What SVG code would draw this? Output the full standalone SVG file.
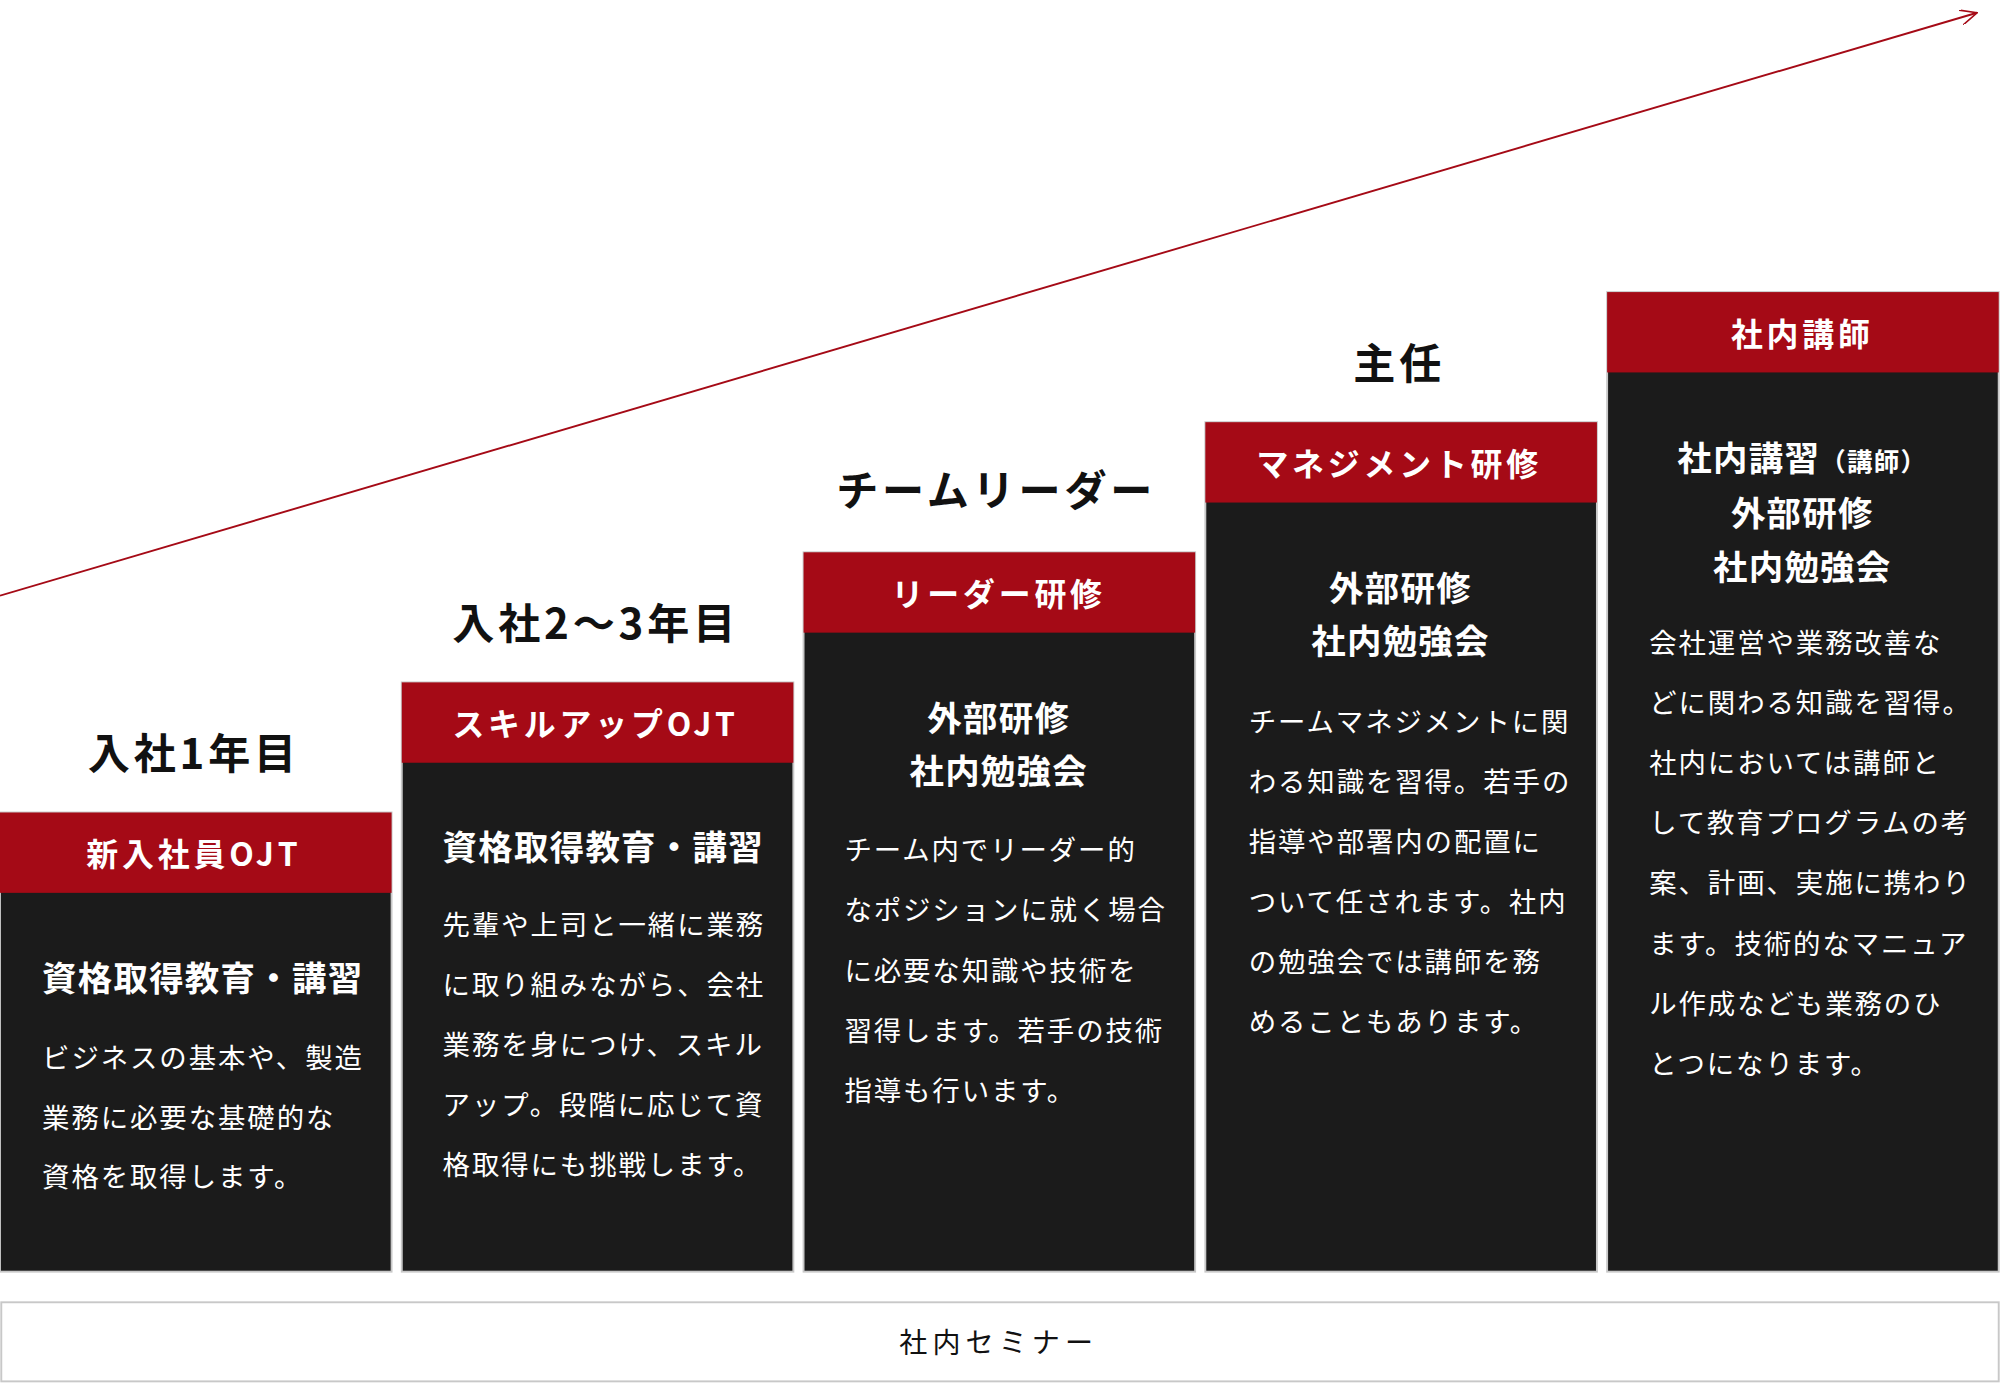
<svg xmlns="http://www.w3.org/2000/svg" width="2000" height="1390" viewBox="0 0 2000 1390">
<style>
text{font-family:"Noto Sans CJK JP","Noto Sans",sans-serif}
.box{fill:#1b1b1b;stroke:#c8c8c8;stroke-width:1.5}
.hd{fill:#a50a16}
.ht{fill:#fff;font-size:25px;font-weight:bold;letter-spacing:3px;text-anchor:middle}
.lv{fill:#111;font-size:33px;font-weight:bold;letter-spacing:3px;text-anchor:middle}
.h2{fill:#fff;font-size:27px;font-weight:bold;letter-spacing:1px}
.hc{fill:#fff;font-size:27px;font-weight:bold;letter-spacing:1px;text-anchor:middle}
.b{fill:#fff;font-size:21.5px;letter-spacing:1.5px}
</style>
<defs><marker id="ar" markerWidth="14" markerHeight="12" refX="13" refY="6" orient="auto" markerUnits="userSpaceOnUse"><path d="M0,0 L13,6 L0,12" fill="none" stroke="#a50a16" stroke-width="1.3"/></marker></defs>
<rect width="2000" height="1390" fill="#fff"/>
<g transform="scale(1.2755)">
<g id="connectors"><line x1="0" y1="467" x2="1550" y2="10" stroke="#a50a16" stroke-width="1.5" marker-end="url(#ar)"/></g>
<g id="n1"><rect class="box" x="0" y="637" width="307" height="360"/><rect class="hd" x="0" y="637" width="307" height="63"/>
<text class="lv" x="152" y="603">入社1年目</text><text class="ht" x="152" y="679">新入社員OJT</text>
<text class="h2" x="33" y="777">資格取得教育・講習</text>
<text class="b" x="33" y="837">ビジネスの基本や、製造</text><text class="b" x="33" y="884">業務に必要な基礎的な</text><text class="b" x="33" y="931">資格を取得します。</text></g>
<g id="n2"><rect class="box" x="315" y="535" width="307" height="462"/><rect class="hd" x="315" y="535" width="307" height="63"/>
<text class="lv" x="467" y="501">入社2〜3年目</text><text class="ht" x="467" y="577">スキルアップOJT</text>
<text class="h2" x="347" y="674">資格取得教育・講習</text>
<text class="b" x="347" y="733">先輩や上司と一緒に業務</text><text class="b" x="347" y="780">に取り組みながら、会社</text><text class="b" x="347" y="827">業務を身につけ、スキル</text><text class="b" x="347" y="874">アップ。段階に応じて資</text><text class="b" x="347" y="921">格取得にも挑戦します。</text></g>
<g id="n3"><rect class="box" x="630" y="433" width="307" height="564"/><rect class="hd" x="630" y="433" width="307" height="63"/>
<text class="lv" x="781" y="397">チームリーダー</text><text class="ht" x="783" y="475">リーダー研修</text>
<text class="hc" x="783" y="573">外部研修</text><text class="hc" x="783" y="615">社内勉強会</text>
<text class="b" x="662" y="674">チーム内でリーダー的</text><text class="b" x="662" y="721">なポジションに就く場合</text><text class="b" x="662" y="769">に必要な知識や技術を</text><text class="b" x="662" y="816">習得します。若手の技術</text><text class="b" x="662" y="863">指導も行います。</text></g>
<g id="n4"><rect class="box" x="945" y="331" width="307" height="666"/><rect class="hd" x="945" y="331" width="307" height="63"/>
<text class="lv" x="1097" y="297">主任</text><text class="ht" x="1097" y="373">マネジメント研修</text>
<text class="hc" x="1098" y="471">外部研修</text><text class="hc" x="1098" y="513">社内勉強会</text>
<text class="b" x="979" y="574">チームマネジメントに関</text><text class="b" x="979" y="621">わる知識を習得。若手の</text><text class="b" x="979" y="668">指導や部署内の配置に</text><text class="b" x="979" y="715">ついて任されます。社内</text><text class="b" x="979" y="762">の勉強会では講師を務</text><text class="b" x="979" y="809">めることもあります。</text></g>
<g id="n5"><rect class="box" x="1260" y="229" width="307" height="768"/><rect class="hd" x="1260" y="229" width="307" height="63"/>
<text class="ht" x="1413" y="271">社内講師</text>
<text class="hc" x="1413" y="369">社内講習<tspan font-size="20">（講師）</tspan></text><text class="hc" x="1413" y="412">外部研修</text><text class="hc" x="1413" y="455">社内勉強会</text>
<text class="b" x="1293" y="512">会社運営や業務改善な</text><text class="b" x="1293" y="559">どに関わる知識を習得。</text><text class="b" x="1293" y="606">社内においては講師と</text><text class="b" x="1293" y="653">して教育プログラムの考</text><text class="b" x="1293" y="700">案、計画、実施に携わり</text><text class="b" x="1293" y="748">ます。技術的なマニュア</text><text class="b" x="1293" y="795">ル作成なども業務のひ</text><text class="b" x="1293" y="842">とつになります。</text></g>
<g id="n6"><rect x="1" y="1021" width="1566" height="62" fill="#fff" stroke="#c8c8c8" stroke-width="1.5"/>
<text x="783" y="1061" font-size="22" fill="#111" text-anchor="middle" letter-spacing="4">社内セミナー</text></g>
</g>
</svg>
